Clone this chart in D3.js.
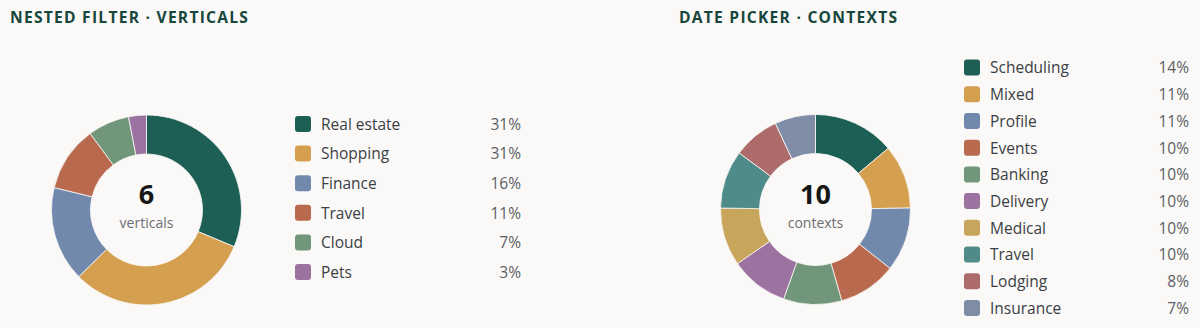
<!DOCTYPE html>
<html>
<head>
<meta charset="utf-8">
<script src="https://cdn.jsdelivr.net/npm/d3@7"></script>
<style>
  html, body { margin: 0; padding: 0; background: #faf9f7; }
  svg { display: block; }
</style>
</head>
<body>
<svg id="chart" width="1200" height="328"></svg>
<script>
// ---- Data ----
const leftTitle = "NESTED FILTER · VERTICALS";
const leftCategories = ["Real estate", "Shopping", "Finance", "Travel", "Cloud", "Pets"];
const leftValues = [31, 31, 16, 11, 7, 3];
const leftColors = ["#1d5f55", "#d4a04f", "#7189ad", "#b8694e", "#72967a", "#9c72a0"];
const leftCenterNumber = "6";
const leftCenterLabel = "verticals";

const rightTitle = "DATE PICKER · CONTEXTS";
const rightCategories = ["Scheduling", "Mixed", "Profile", "Events", "Banking", "Delivery", "Medical", "Travel", "Lodging", "Insurance"];
const rightValues = [14, 11, 11, 10, 10, 10, 10, 10, 8, 7];
const rightColors = ["#1d5f55", "#d4a04f", "#7189ad", "#b8694e", "#72967a", "#9c72a0", "#c7a55a", "#4f8b88", "#ad6b6b", "#7f8ea6"];
const rightCenterNumber = "10";
const rightCenterLabel = "contexts";

const svg = d3.select("#chart");
const FONT = "'Open Sans', 'Noto Sans', sans-serif";

function panel(cfg) {
  const g = svg.append("g");
  g.append("text")
    .attr("x", cfg.titleX).attr("y", 23)
    .attr("font-family", FONT).attr("font-weight", 700)
    .attr("font-size", 15.6).attr("letter-spacing", 1.25)
    .attr("fill", "#17463d")
    .text(cfg.title);

  const pie = d3.pie().sort(null).value(d => d)(cfg.values);
  const arc = d3.arc().innerRadius(56).outerRadius(95);
  const donut = g.append("g").attr("transform", `translate(${cfg.cx},${cfg.cy})`);
  donut.selectAll("path").data(pie).join("path")
    .attr("d", arc)
    .attr("fill", (d, i) => cfg.colors[i])
    .attr("stroke", "#faf9f7").attr("stroke-width", 0.8);

  donut.append("text").attr("text-anchor", "middle").attr("y", -6)
    .attr("font-family", FONT).attr("font-weight", 700).attr("font-size", 27)
    .attr("fill", "#161616").text(cfg.centerNumber);
  donut.append("text").attr("text-anchor", "middle").attr("y", 18)
    .attr("font-family", FONT).attr("font-size", 14)
    .attr("fill", "#6e6e73").text(cfg.centerLabel);

  const y = d3.scalePoint().domain(cfg.categories)
    .range([cfg.legendTop, cfg.legendBottom]);
  const rows = g.selectAll("g.row").data(cfg.categories).join("g")
    .attr("class", "row")
    .attr("transform", d => `translate(0,${y(d)})`);
  rows.append("rect")
    .attr("x", cfg.swatchX).attr("y", -8).attr("width", 16).attr("height", 16)
    .attr("rx", 3).attr("fill", (d, i) => cfg.colors[i]);
  rows.append("text")
    .attr("x", cfg.swatchX + 26).attr("dy", "0.38em")
    .attr("font-family", FONT).attr("font-size", 15.5)
    .attr("fill", "#3b3f45").text(d => d);
  rows.append("text")
    .attr("x", cfg.pctX).attr("dy", "0.38em").attr("text-anchor", "end")
    .attr("font-family", FONT).attr("font-size", 15.5)
    .attr("fill", "#5a5e64").text((d, i) => cfg.values[i] + "%");
}

panel({
  title: leftTitle, titleX: 10, cx: 146.5, cy: 210,
  values: leftValues, colors: leftColors, categories: leftCategories,
  centerNumber: leftCenterNumber, centerLabel: leftCenterLabel,
  legendTop: 124, legendBottom: 272, swatchX: 295, pctX: 521
});
panel({
  title: rightTitle, titleX: 679, cx: 815.5, cy: 209.5,
  values: rightValues, colors: rightColors, categories: rightCategories,
  centerNumber: rightCenterNumber, centerLabel: rightCenterLabel,
  legendTop: 67.5, legendBottom: 308, swatchX: 964, pctX: 1189
});
</script>
</body>
</html>
